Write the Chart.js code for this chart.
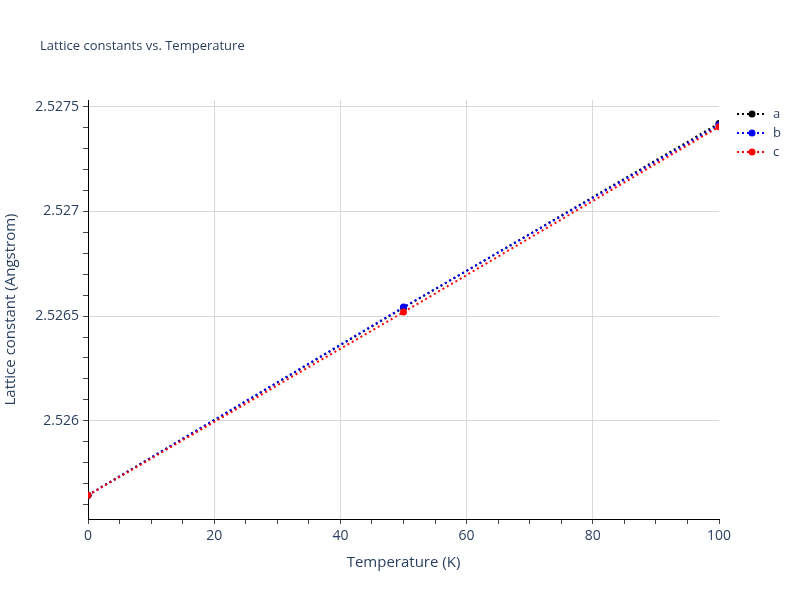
<!DOCTYPE html>
<html><head><meta charset="utf-8">
<script src="https://cdn.jsdelivr.net/npm/chart.js@4/dist/chart.umd.min.js"></script>
<style>html,body{margin:0;padding:0;background:#fff}#wrap{width:800px;height:600px}</style>
</head><body><div id="wrap"><canvas id="c" width="800" height="600"></canvas></div>
<script>
const temperatures = [0, 50, 100];
const seriesA = [2.525644, 2.526540, 2.527421];
const seriesB = [2.525644, 2.526543, 2.527413];
const seriesC = [2.525644, 2.526519, 2.527405];
const seriesNames = ['a', 'b', 'c'];
const seriesColors = ['#000000', '#0000ff', '#ff0000'];
const yMajorTicks = [2.526, 2.5265, 2.527, 2.5275];
const xMajorTicks = [0, 20, 40, 60, 80, 100];
const titleText = 'Lattice constants vs. Temperature';
const xTitle = 'Temperature (K)';
const yTitle = 'Lattice constant (Angstrom)';

const FONT = '"Open Sans", Verdana, Arial, sans-serif';
const TXT = '#2a3f5f';
const yMin = 2.52553, yMax = 2.527533;

function isMajorY(v){ return yMajorTicks.some(t => Math.abs(t - v) < 1e-9); }
function isMajorX(v){ return xMajorTicks.some(t => Math.abs(t - v) < 1e-9); }

const seriesData = [seriesA, seriesB, seriesC];
const datasets = seriesData.map((vals, i) => ({
  label: seriesNames[i],
  data: temperatures.map((t, j) => ({x: t, y: vals[j]})),
  borderColor: seriesColors[i],
  backgroundColor: seriesColors[i],
  borderWidth: 2,
  borderDash: [2, 3],
  pointRadius: 3.5,
  pointHoverRadius: 3.5,
  pointBorderWidth: 0,
  order: 3 - i,
  tension: 0
}));

const extras = {
  id: 'extras',
  afterDraw(chart){
    const ctx = chart.ctx;
    ctx.save();
    ctx.fillStyle = TXT;
    ctx.font = '13px ' + FONT;
    ctx.textAlign = 'left';
    ctx.textBaseline = 'middle';
    ctx.fillText(titleText, 40, 46);
    datasets.forEach((ds, i) => {
      const y = 114 + i * 19;
      ctx.strokeStyle = ds.borderColor;
      ctx.lineWidth = 2;
      ctx.setLineDash([2, 3]);
      ctx.beginPath(); ctx.moveTo(737, y); ctx.lineTo(767, y); ctx.stroke();
      ctx.setLineDash([]);
      ctx.fillStyle = ds.borderColor;
      ctx.beginPath(); ctx.arc(752, y, 3.5, 0, Math.PI * 2); ctx.fill();
      ctx.fillStyle = TXT;
      ctx.font = '13px ' + FONT;
      ctx.fillText(ds.label, 773, y);
    });
    ctx.restore();
  }
};

new Chart(document.getElementById('c'), {
  type: 'line',
  data: { datasets },
  plugins: [extras],
  options: {
    responsive: false,
    animation: false,
    devicePixelRatio: 1,
    layout: { padding: { left: 0, right: 81, top: 100, bottom: 0 } },
    plugins: { legend: { display: false }, tooltip: { enabled: false }, title: { display: false } },
    scales: {
      x: {
        type: 'linear', min: 0, max: 100,
        afterBuildTicks(s){ const t=[]; for(let v=0; v<=100; v+=5) t.push({value:v}); s.ticks = t; },
        afterFit(s){ s.height = 81; },
        ticks: {
          autoSkip: false, maxRotation: 0, padding: 4,
          color: TXT, font: { family: FONT, size: 14 },
          callback: v => isMajorX(v) ? String(v) : ''
        },
        grid: {
          color: c => (c.tick && isMajorX(c.tick.value) && c.tick.value > 0 && c.tick.value < 100) ? '#d9d9d9' : 'rgba(0,0,0,0)',
          tickColor: '#444', tickLength: 5, drawTicks: true, lineWidth: 1
        },
        border: { display: true, color: '#000', width: 1 },
        title: { display: true, text: xTitle, color: TXT, font: { family: FONT, size: 15 }, padding: { top: 0, bottom: 28 } }
      },
      y: {
        type: 'linear', min: yMin, max: yMax,
        afterBuildTicks(s){ const t=[]; for(let k=25256; k<=25275; k++) t.push({value: k/10000}); s.ticks = t; },
        afterFit(s){ s.width = 88; },
        ticks: {
          autoSkip: false, padding: 4,
          color: TXT, font: { family: FONT, size: 14 },
          callback: v => isMajorY(v) ? String(Math.round(v*10000)/10000) : ''
        },
        grid: {
          color: c => (c.tick && isMajorY(c.tick.value)) ? '#d9d9d9' : 'rgba(0,0,0,0)',
          tickColor: '#444', tickLength: 5, drawTicks: true, lineWidth: 1
        },
        border: { display: true, color: '#000', width: 1 },
        title: { display: true, text: yTitle, color: TXT, font: { family: FONT, size: 15 }, padding: { top: 2, bottom: 0 } }
      }
    }
  }
});
</script>
</body></html>
